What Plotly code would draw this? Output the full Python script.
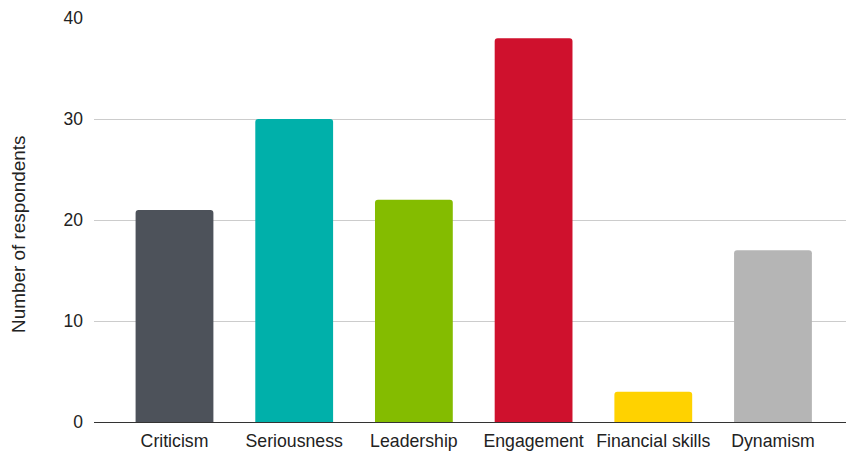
import plotly.graph_objects as go

categories = ["Criticism", "Seriousness", "Leadership", "Engagement", "Financial skills", "Dynamism"]
respondents = [21, 30, 22, 38, 3, 17]
bar_colors = ["#4d525a", "#00b0aa", "#84bc00", "#cf112d", "#ffd200", "#b5b5b5"]
y_ticks = [0, 10, 20, 30, 40]
y_title = "Number of respondents"

fig = go.Figure(
    go.Bar(
        x=list(range(len(categories))),
        y=respondents,
        marker=dict(color=bar_colors, line=dict(width=0), cornerradius=3),
        width=0.65,
    )
)

fig.update_layout(
    width=846,
    height=451,
    margin=dict(l=94, r=0, t=18, b=27),
    paper_bgcolor="white",
    plot_bgcolor="white",
    showlegend=False,
    font=dict(family="Liberation Sans, Arial, sans-serif", size=18, color="#222222"),
)

fig.update_xaxes(
    tickmode="array",
    tickvals=list(range(len(categories))),
    ticktext=categories,
    range=[-0.6725, 5.61],
    showgrid=False,
    showline=True,
    linecolor="#333333",
    linewidth=1,
    ticks="",
    zeroline=False,
    ticklabelstandoff=3,
    tickfont=dict(size=17.7),
)

fig.update_yaxes(
    range=[0, 40],
    tickvals=y_ticks,
    showgrid=True,
    gridcolor="#cccccc",
    gridwidth=1,
    zeroline=False,
    showline=False,
    ticks="",
    ticklabelstandoff=10,
    tickfont=dict(size=17.5),
)

# vertical axis title, placed slightly below the plot's vertical centre
fig.add_annotation(
    text=y_title,
    textangle=-90,
    xref="paper", yref="paper",
    x=0, y=0.5,
    xanchor="center", yanchor="middle",
    xshift=-76, yshift=-15,
    showarrow=False,
    font=dict(size=18.9),
)

fig.write_html("out.html")
